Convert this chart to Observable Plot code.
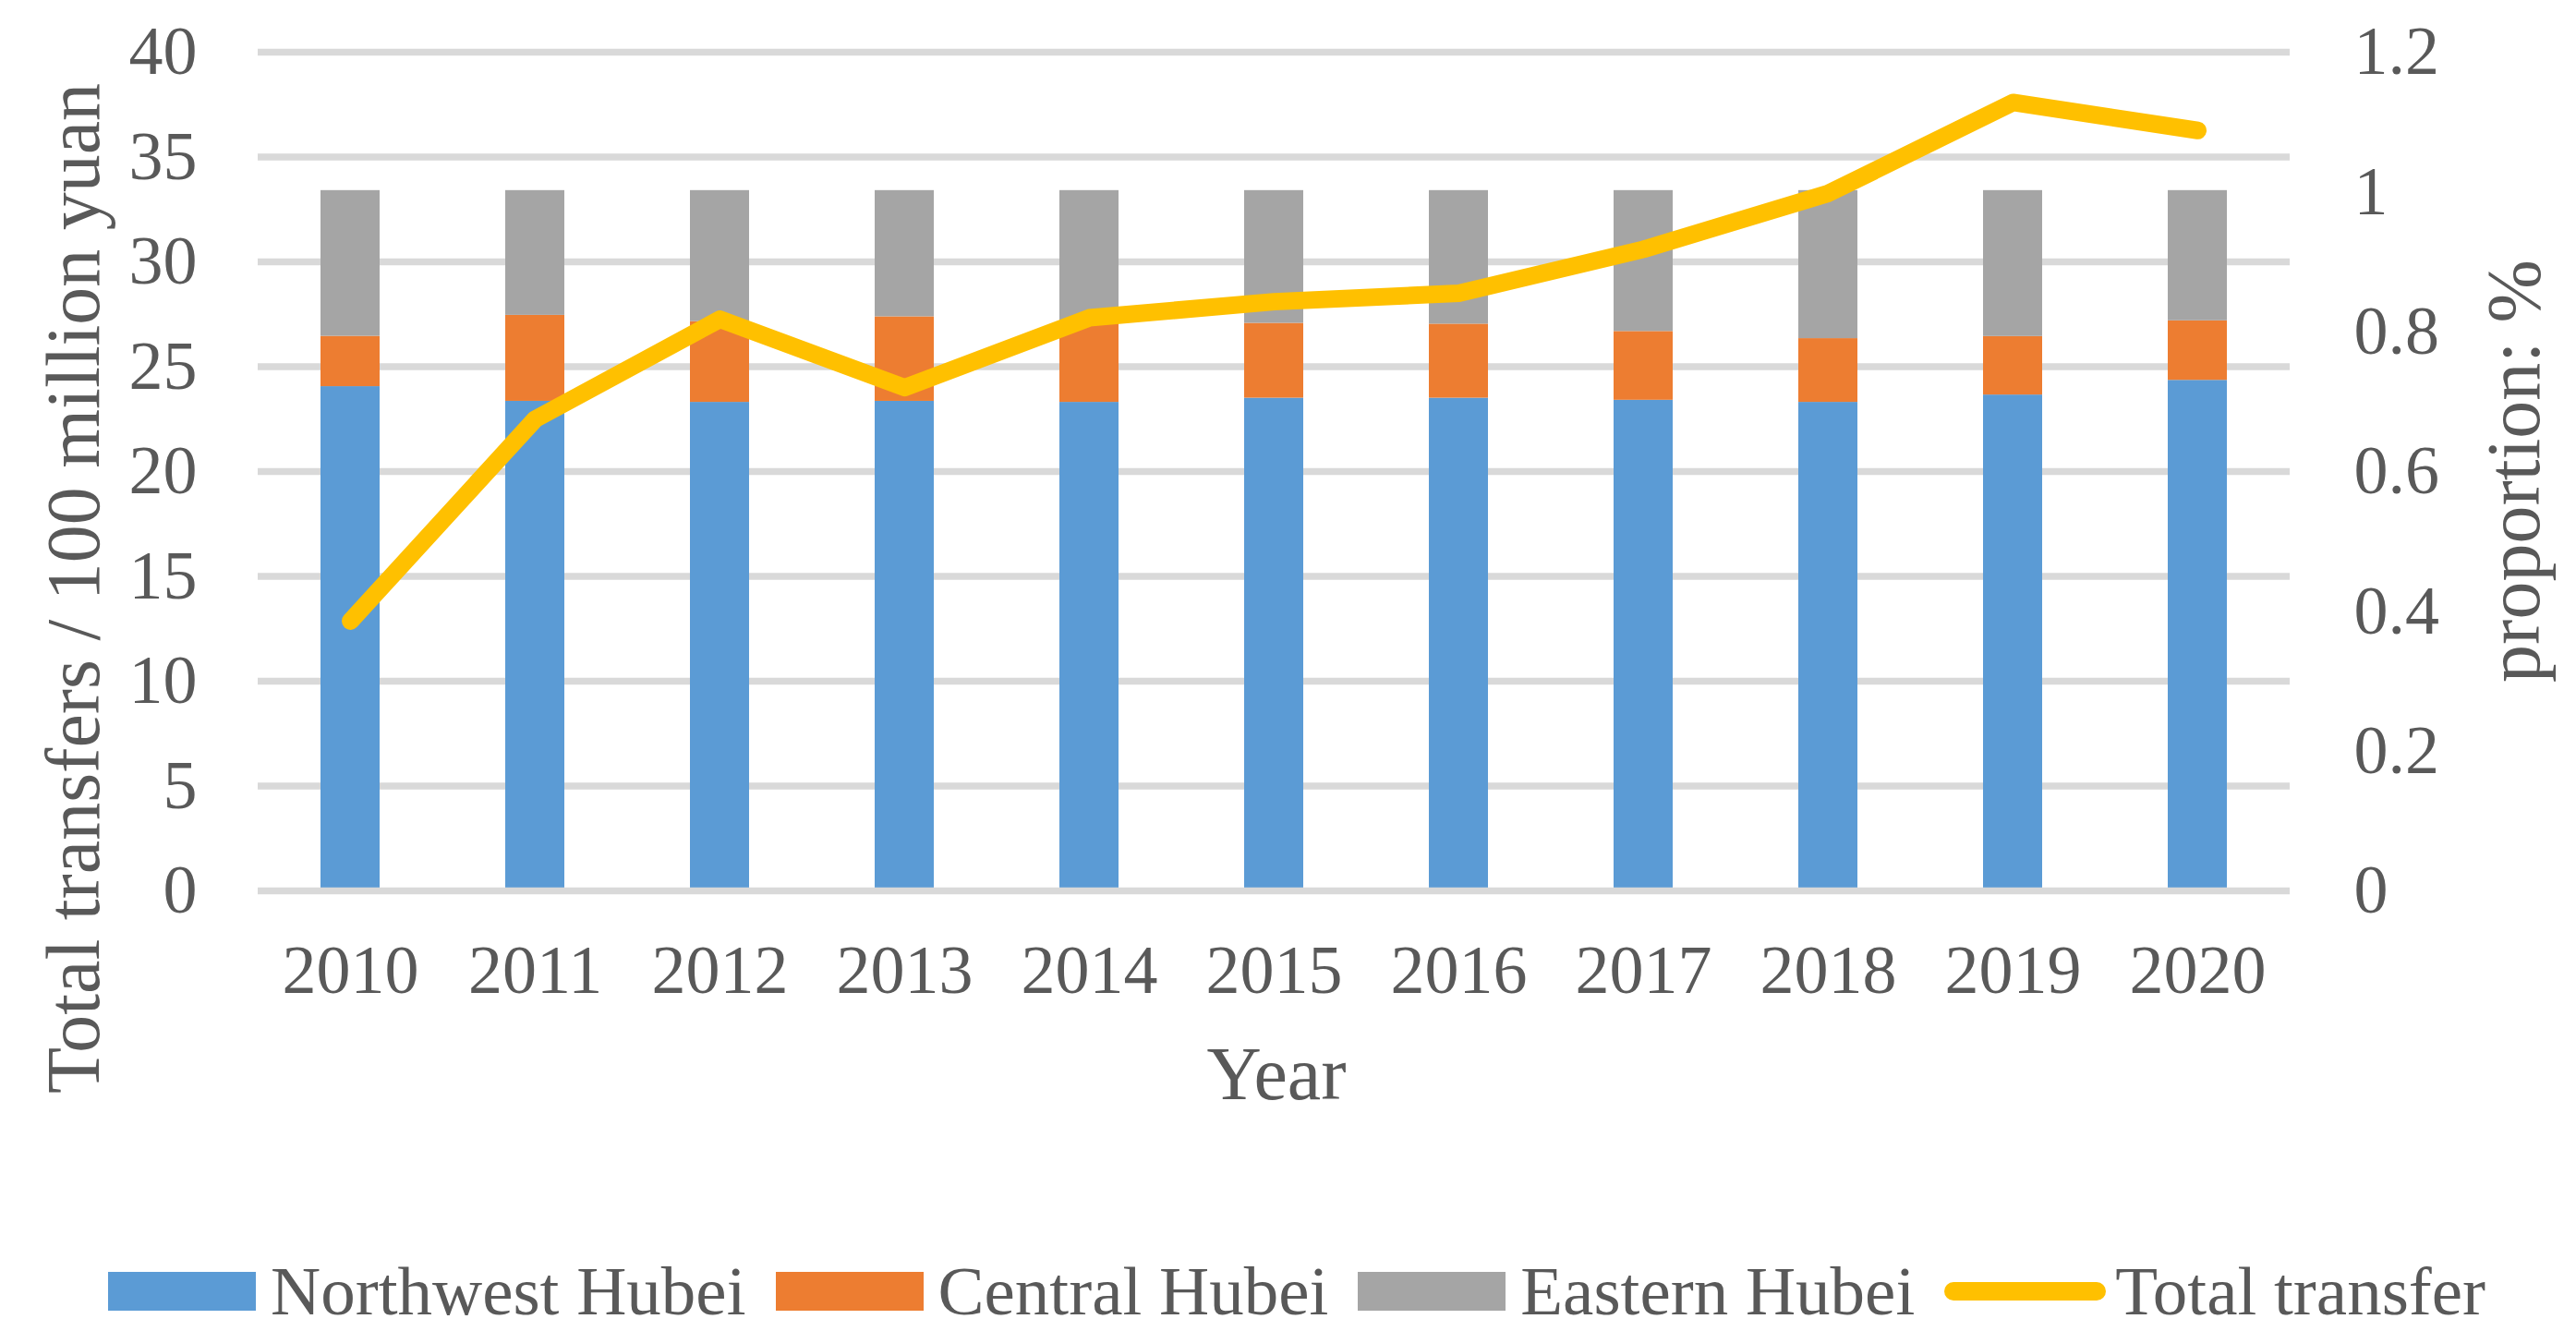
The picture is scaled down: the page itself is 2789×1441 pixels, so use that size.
<!DOCTYPE html>
<html>
<head>
<meta charset="utf-8">
<script src="https://cdn.jsdelivr.net/npm/d3@7"></script>
<script src="https://cdn.jsdelivr.net/npm/@observablehq/plot@0.6"></script>
<style>
  html, body { margin: 0; padding: 0; background: #fff; }
  body { width: 2789px; height: 1441px; position: relative; overflow: hidden;
         font-family: "Liberation Serif", "Times New Roman", serif; color: #595959; }
  #chart { position: absolute; left: 0; top: 0; }
  #legend { position: absolute; left: 117px; top: 1355px; display: flex; align-items: center;
            font-size: 75px; line-height: 1.15; white-space: nowrap; color: #595959; }
  .item { display: flex; align-items: center; margin-right: 32px; }
  .sw { width: 160px; height: 42px; margin-right: 16px; }
  .ln { width: 175px; height: 20px; border-radius: 10px; margin-right: 10px; }
</style>
</head>
<body>
<div id="chart"></div>
<div id="legend"></div>
<script>
// ---- data ----
const years = ["2010","2011","2012","2013","2014","2015","2016","2017","2018","2019","2020"];
const northwest = [24.05, 23.35, 23.3, 23.35, 23.3, 23.5, 23.5, 23.4, 23.3, 23.65, 24.35];
const central   = [2.4, 4.1, 3.85, 4.03, 3.8, 3.57, 3.53, 3.28, 3.04, 2.79, 2.84];
const eastern   = [6.95, 5.95, 6.25, 6.02, 6.3, 6.33, 6.37, 6.72, 7.06, 6.96, 6.21];
const totalTransfer = [0.386, 0.675, 0.818, 0.72, 0.82, 0.843, 0.855, 0.918, 0.998, 1.128, 1.088];
const seriesNames = ["Northwest Hubei", "Central Hubei", "Eastern Hubei"];
const seriesColors = ["#5B9BD5", "#ED7D31", "#A5A5A5"];
const lineName = "Total transfer";
const lineColor = "#FFC000";
const leftTicks = [0, 5, 10, 15, 20, 25, 30, 35, 40];
const rightTicks = [0, 0.2, 0.4, 0.6, 0.8, 1, 1.2];
const leftMax = 40, rightMax = 1.2;
const leftTitle = "Total transfers / 100 million yuan";
const rightTitle = "proportion: %";
const xTitle = "Year";

// ---- build tables ----
const seriesValues = [northwest, central, eastern];
const bars = [];
seriesNames.forEach((s, i) => years.forEach((y, j) => bars.push({year: y, series: s, value: seriesValues[i][j]})));
const ratio = leftMax / rightMax;
const lineData = years.map((y, j) => ({year: y, v: totalTransfer[j] * ratio}));

const W = 2789, H = 1250;
const plot = Plot.plot({
  width: W, height: H,
  marginLeft: 279, marginRight: 310, marginTop: 56, marginBottom: 286,
  style: {fontFamily: '"Liberation Serif", "Times New Roman", serif', fontSize: "74px", color: "#595959", background: "#fff"},
  x: {domain: years, paddingInner: 0.68, paddingOuter: 0.34, label: null},
  y: {domain: [0, leftMax], label: null},
  color: {domain: seriesNames, range: seriesColors},
  marks: [
    Plot.ruleY(leftTicks.filter(t => t > 0), {stroke: "#D9D9D9", strokeWidth: 7.5}),
    Plot.barY(bars, Plot.stackY({x: "year", y: "value", fill: "series", order: seriesNames})),
    Plot.ruleY([0], {stroke: "#D9D9D9", strokeWidth: 7.5}),
    Plot.line(lineData, {x: "year", y: "v", stroke: lineColor, strokeWidth: 19, strokeLinecap: "round", strokeLinejoin: "round"}),
    Plot.axisX({tickSize: 0, tickPadding: 58, fontSize: 74, label: null}),
    Plot.axisY(leftTicks, {anchor: "left", tickSize: 0, tickPadding: 66, fontSize: 74, label: null}),
    Plot.axisY(rightTicks.map(t => t * ratio), {anchor: "right", tickSize: 0, tickPadding: 69, fontSize: 74, label: null,
      tickFormat: d => String(+(d / ratio).toFixed(1))})
  ]
});
document.getElementById("chart").appendChild(plot);

const svg = d3.select(plot);
svg.append("text").attr("transform", "translate(78,637) rotate(-90)")
  .attr("text-anchor", "middle").attr("dy", "0.35em")
  .attr("font-size", 82).attr("fill", "#595959").text(leftTitle);
svg.append("text").attr("transform", "translate(2720,510) rotate(-90)")
  .attr("text-anchor", "middle").attr("dy", "0.35em")
  .attr("font-size", 82).attr("fill", "#595959").text(rightTitle);
svg.append("text").attr("x", 1382).attr("y", 1190)
  .attr("text-anchor", "middle")
  .attr("font-size", 82).attr("fill", "#595959").text(xTitle);

// ---- legend ----
const legend = d3.select("#legend");
seriesNames.forEach((s, i) => {
  const it = legend.append("div").attr("class", "item");
  it.append("div").attr("class", "sw").style("background", seriesColors[i]);
  it.append("span").text(s);
});
const li = legend.append("div").attr("class", "item");
li.append("div").attr("class", "ln").style("background", lineColor);
li.append("span").text(lineName);
</script>
</body>
</html>
